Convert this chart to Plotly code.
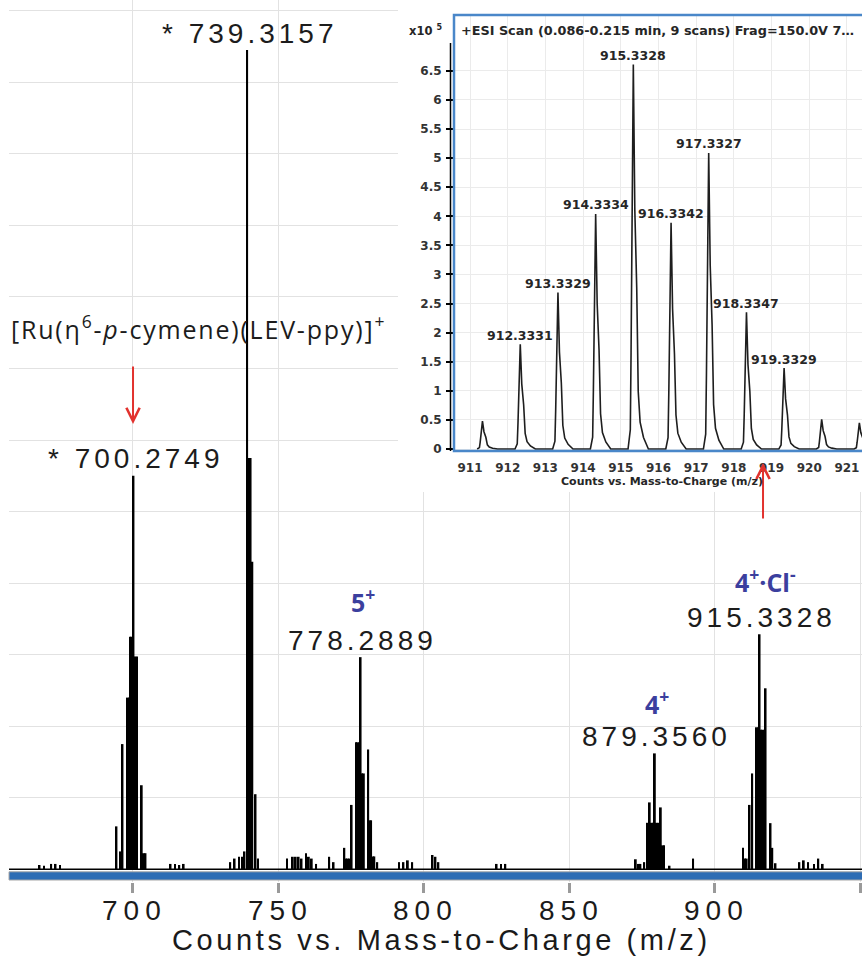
import plotly.graph_objects as go

W, H = 862, 956

# ---------------- main spectrum (counts, x10^5) ----------------
NOISE_MZ = [668.0, 669.5, 672.0, 673.5, 675.0, 713.0, 714.5, 716.0, 717.5,
            733.5, 735.0, 736.5, 753.0, 755.0, 756.0, 757.0, 758.0, 759.5,
            760.5, 761.5, 763.0, 767.5, 769.0, 784.0, 791.5, 793.0, 794.5,
            796.0, 803.0, 804.0, 805.0, 825.0, 826.5, 828.0, 892.5, 929.0,
            930.5, 932.0, 934.0, 935.5, 937.0]
NOISE_H = [0.12, 0.10, 0.15, 0.15, 0.12, 0.15, 0.15, 0.12, 0.15,
           0.20, 0.30, 0.35, 0.30, 0.35, 0.35, 0.35, 0.30, 0.45,
           0.35, 0.30, 0.15, 0.35, 0.20, 0.20, 0.20, 0.20, 0.25,
           0.20, 0.40, 0.35, 0.20, 0.15, 0.15, 0.15, 0.30, 0.20,
           0.25, 0.20, 0.15, 0.30, 0.15]

C700_MZ = [694.43, 695.8, 696.5, 698.2, 698.7, 699.2, 699.7, 700.2749,
           700.9, 701.5, 703.1, 703.8, 704.4]
C700_H = [1.2, 0.5, 3.5, 4.8, 4.8, 6.5, 6.5, 11.0, 5.95, 5.95, 2.35, 0.45, 0.45]

C739_MZ = [737.5, 738.4, 739.3157, 739.9, 740.5, 741.1, 742.2, 743.0]
C739_H = [0.35, 0.5, 22.9, 11.5, 11.5, 8.6, 2.1, 0.3]

C778_MZ = [772.7, 773.3, 773.9, 774.5, 775.2, 776.7, 777.2, 777.7, 778.2889,
           778.8, 779.4, 780.9, 781.4, 781.9, 782.5, 783.0]
C778_H = [0.6, 0.3, 0.3, 0.3, 1.8, 3.55, 3.55, 3.55, 5.93,
          2.68, 2.68, 3.35, 1.37, 1.37, 0.36, 0.36]

C879_MZ = [872.8, 873.8, 874.4, 875.7, 876.8, 877.6, 878.3, 878.8, 879.356,
           879.9, 880.5, 881.4, 882.0, 882.5, 884.4]
C879_H = [0.28, 0.15, 0.15, 0.2, 1.3, 1.87, 1.3, 1.3, 3.24,
          1.3, 1.3, 1.73, 0.67, 0.67, 0.1]

C915_MZ = [909.6, 910.3, 910.9, 911.9, 912.8, 914.3, 914.8, 915.3328, 915.8,
           916.3, 916.9, 917.4, 919.1, 919.7, 920.8]
C915_H = [0.6, 0.3, 0.3, 1.8, 2.68, 3.97, 3.97, 6.57, 3.9,
          3.9, 3.9, 5.06, 1.29, 0.6, 0.17]

MAIN_TICKS = [700, 750, 800, 850, 900, 950]
MAIN_TICK_TEXT = ["700", "750", "800", "850", "900", ""]
MAIN_GRID_Y = list(range(0, 25, 2))

PEAK_LABEL_MZ = [739.3157, 700.2749, 778.2889, 879.356, 915.3328]
PEAK_LABEL_H = [22.9, 11.0, 5.93, 3.24, 6.57]
PEAK_LABEL_TEXT = ["* 739.3157", "* 700.2749", "778.2889", "879.3560", "915.3328"]

# ---------------- inset (counts, x10^5) ----------------
INSET_MZ = [911.33, 912.3331, 913.3329, 914.3334, 915.3328, 916.3342,
            917.3327, 918.3347, 919.3329, 920.33, 921.33]
INSET_H = [0.48, 1.80, 2.69, 4.04, 6.61, 3.89, 5.09, 2.35, 1.39, 0.51, 0.45]
INSET_LABELS = ["", "912.3331", "913.3329", "914.3334", "915.3328", "916.3342",
                "917.3327", "918.3347", "919.3329", "", ""]
# peak line shape (offset in m/z, fraction of apex)
PEAK_DX = [-0.14, -0.08, -0.06, -0.035, 0.0, 0.04, 0.09, 0.13, 0.18, 0.27, 0.40]
PEAK_FRAC = [0.0, 0.05, 0.25, 0.65, 1.0, 0.62, 0.42, 0.15, 0.07, 0.03, 0.0]
INSET_XTICKS = list(range(911, 922))
INSET_YTICKS = [0, 0.5, 1, 1.5, 2, 2.5, 3, 3.5, 4, 4.5, 5, 5.5, 6, 6.5]

# ---------------- helpers ----------------
def px(x):
    return x / W


def py(y):
    return 1 - y / H


def spaced(t, s):
    return '<span style="letter-spacing:%spx">%s</span>' % (s, t) if t else ""


SANS = "Liberation Sans"
INS = "DejaVu Sans"
BLUE_TXT = "#3b3f9e"
RED = "#e2322e"

main_mz = NOISE_MZ + C700_MZ + C739_MZ + C778_MZ + C879_MZ + C915_MZ
main_h = NOISE_H + C700_H + C739_H + C778_H + C879_H + C915_H

ix, iy = [], []
for m, h in zip(INSET_MZ, INSET_H):
    for dx, f in zip(PEAK_DX, PEAK_FRAC):
        ix.append(m + dx)
        iy.append(h * f)

fig = go.Figure()
fig.add_trace(go.Bar(x=main_mz, y=main_h, width=0.62,
                     marker=dict(color="black", line=dict(width=0)),
                     xaxis="x", yaxis="y", hoverinfo="skip"))
fig.add_trace(go.Scatter(x=[], y=[], xaxis="x2", yaxis="y2"))
fig.add_trace(go.Scatter(x=ix, y=iy, mode="lines",
                         line=dict(color="#1e1e1e", width=1.6),
                         xaxis="x3", yaxis="y3", hoverinfo="skip"))

fig.update_layout(
    width=W, height=H, margin=dict(l=0, r=0, t=0, b=0, autoexpand=False),
    paper_bgcolor="white", plot_bgcolor="white", showlegend=False,
    xaxis=dict(domain=[px(9), 1], range=[657.5, 950.5], anchor="y", automargin=False,
               tickvals=MAIN_TICKS, showticklabels=False,
               ticks="outside", ticklen=10, tickwidth=2.5, tickcolor="#9a9a9a",
               showgrid=True, gridcolor="#e2e2e2", gridwidth=1,
               zeroline=False, showline=False),
    yaxis=dict(domain=[py(882), 1], range=[-0.355, 24.30], anchor="x", automargin=False,
               tickvals=MAIN_GRID_Y, showticklabels=False, ticks="",
               showgrid=True, gridcolor="#e2e2e2", zeroline=False, showline=False),
    xaxis2=dict(domain=[px(398), 1], range=[0, 1], anchor="y2", showgrid=False,
                automargin=False, showticklabels=False, ticks="", zeroline=False,
                showline=False),
    yaxis2=dict(domain=[py(492), 1], range=[0, 1], anchor="x2", showgrid=False,
                automargin=False, showticklabels=False, ticks="", zeroline=False,
                showline=False),
    xaxis3=dict(domain=[px(454), 1], range=[910.575, 921.40], anchor="y3",
                automargin=False,
                tickvals=INSET_XTICKS, ticks="", showgrid=True, gridcolor="#ebebeb",
                zeroline=False, showline=False, ticklabelstandoff=8,
                tickfont=dict(family=INS, size=12, color="#333333", weight="bold")),
    yaxis3=dict(domain=[py(451), py(15)], range=[-0.034, 7.46], anchor="x3",
                automargin=False,
                tickvals=INSET_YTICKS, ticks="outside", ticklen=7, tickwidth=1.5,
                tickcolor="black", showgrid=True, gridcolor="#ebebeb",
                zeroline=False, showline=False, ticklabelstandoff=2,
                tickfont=dict(family=INS, size=12, color="#333333", weight="bold")),
)

shapes = [
    dict(type="line", xref="paper", yref="y", x0=px(9), x1=1, y0=0, y1=0,
         line=dict(color="black", width=1.6)),
    dict(type="rect", xref="paper", yref="y", x0=px(9), x1=1.01, y0=-0.07, y1=-0.30,
         fillcolor="#2e6db4", line=dict(color="#a8a8a8", width=1)),
    dict(type="rect", xref="paper", yref="paper", x0=px(454), x1=1.02,
         y0=py(451), y1=py(15), line=dict(color="#4a87c9", width=2.5)),
    dict(type="line", xref="paper", yref="paper", x0=px(450.5), x1=px(450.5),
         y0=py(451), y1=py(43), line=dict(color="black", width=1.5)),
]
fig.update_layout(shapes=shapes)

ann = []
# main x tick labels
for v, t in zip(MAIN_TICKS, MAIN_TICK_TEXT):
    if t:
        ann.append(dict(x=v, y=py(910), xref="x", yref="paper", text=spaced(t, 6),
                        showarrow=False, xanchor="center", yanchor="middle", xshift=2,
                        font=dict(family=SANS, size=28, color="#1a1a1a")))

for m, h, t in zip(PEAK_LABEL_MZ, PEAK_LABEL_H, PEAK_LABEL_TEXT):
    ann.append(dict(x=m, y=h, xref="x", yref="y", text=spaced(t, 4), showarrow=False,
                    xanchor="center", yanchor="middle", yshift=17, xshift=2,
                    font=dict(family=SANS, size=28, color="#1c1c1c")))

for m, h, t in zip(INSET_MZ, INSET_H, INSET_LABELS):
    if t:
        ann.append(dict(x=m, y=h, xref="x3", yref="y3", text=t, showarrow=False,
                        xanchor="center", yanchor="middle", yshift=9,
                        font=dict(family=INS, size=12.5, color="#262626", weight="bold")))

BLUE_LABELS = [(778.2889, 5.93, "5<sup>+</sup>", 57, 2),
               (879.356, 3.24, "4<sup>+</sup>", 51, 2),
               (915.3328, 6.57, "4<sup>+</sup>·Cl<sup>-</sup>", 54, 6)]
for m, h, t, ys, xs in BLUE_LABELS:
    ann.append(dict(x=m, y=h, xref="x", yref="y", text=t, showarrow=False,
                    xanchor="center", yanchor="middle", yshift=ys, xshift=xs,
                    font=dict(family="Open Sans", size=25, color=BLUE_TXT, weight="bold")))

ann += [
    dict(x=px(198), y=py(327), xref="paper", yref="paper", showarrow=False,
         xanchor="center", yanchor="middle",
         text=spaced("[Ru(η<sup>6</sup>-<i>p</i>-cymene)(LEV-ppy)]<sup>+</sup>", 1.8),
         font=dict(family="Open Sans", size=25, color="#1c1c1c")),
    dict(x=700.1, y=12.45, xref="x", yref="y", ax=0, ay=-59, text="", showarrow=True,
         arrowhead=5, arrowsize=1.3, arrowwidth=2, arrowcolor=RED),
    dict(x=916.5, y=11.36, xref="x", yref="y", ax=0, ay=57, text="", showarrow=True,
         arrowhead=5, arrowsize=1.3, arrowwidth=2, arrowcolor=RED),
    dict(x=px(441), y=py(940), xref="paper", yref="paper", showarrow=False,
         xanchor="center", yanchor="middle",
         text=spaced("Counts vs. Mass-to-Charge (m/z)", 3.6),
         font=dict(family=SANS, size=29, color="#1a1a1a")),
    dict(x=px(459), y=py(31), xref="paper", yref="paper", showarrow=False,
         xanchor="left", yanchor="middle",
         text="+ESI Scan (0.086-0.215 min, 9 scans) Frag=150.0V 7…",
         font=dict(family=INS, size=12.8, color="#262626", weight="bold")),
    dict(x=px(444), y=py(31), xref="paper", yref="paper", showarrow=False,
         xanchor="right", yanchor="middle", text="x10 <sup>5</sup>",
         font=dict(family=INS, size=11.5, color="#262626", weight="bold")),
    dict(x=px(662), y=py(482), xref="paper", yref="paper", showarrow=False,
         xanchor="center", yanchor="middle",
         text="Counts vs. Mass-to-Charge (m/z)",
         font=dict(family=INS, size=11, color="#262626", weight="bold")),
]
fig.update_layout(annotations=ann)

fig.write_html("out.html", config={"displayModeBar": False},
               post_script="document.body.style.margin='0';document.body.style.overflow='hidden';")
